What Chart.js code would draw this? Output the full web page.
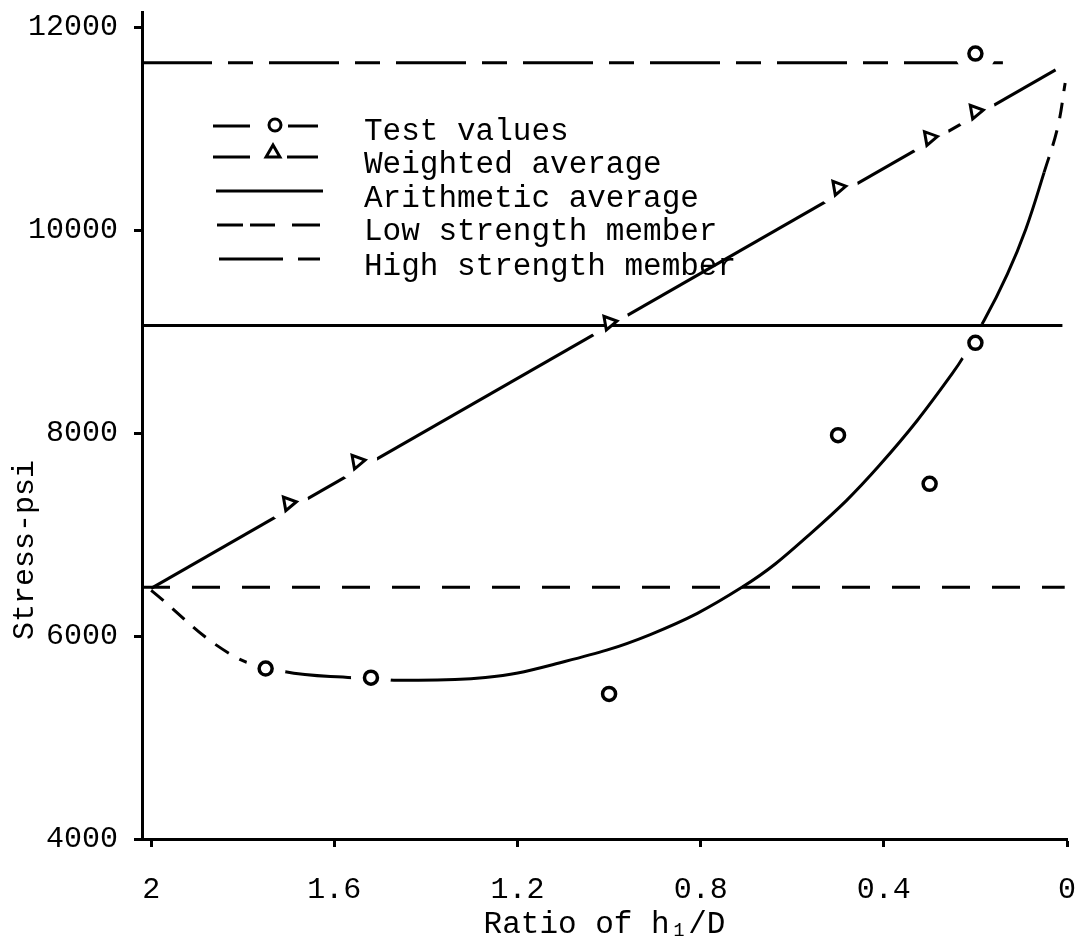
<!DOCTYPE html>
<html>
<head>
<meta charset="utf-8">
<title>Stress vs ratio of h1/D</title>
<script src="https://cdn.jsdelivr.net/npm/chart.js@4.4.1/dist/chart.umd.min.js"></script>
<style>
  html, body { margin: 0; padding: 0; background: #fff; }
  #wrap { width: 1090px; height: 948px; position: relative; }
</style>
</head>
<body>
<div id="wrap"><canvas id="stressChart"></canvas></div>
<script>
// values
const xTicks = [2, 1.6, 1.2, 0.8, 0.4, 0];
const yTicks = [4000, 6000, 8000, 10000, 12000];
const xAxisStart = 2.02;
const yAxisTop = 12150;

const testRatio = [1.75, 1.52, 1.0, 0.5, 0.3, 0.2, 0.2];
const testStress = [5680, 5590, 5430, 7980, 7500, 8890, 11740];

const weightedRatio = [1.7, 1.55, 1.0, 0.5, 0.3, 0.2];
const weightedStress = [7310, 7720, 9090, 10420, 10910, 11170];

const weightedLineRatio = [2.0, 0.025];
const weightedLineStress = [6470, 11580];

// hand drawn curve through the test values
const testCurveRatio = [2.0, 1.83, 1.71, 1.56, 1.45, 1.27, 1.13, 0.91, 0.71, 0.56, 0.41, 0.25, 0.18, 0.13, 0.09, 0.05, 0.02, 0.004];
const testCurveStress = [6450, 5830, 5650, 5590, 5565, 5592, 5710, 6015, 6480, 7010, 7680, 8590, 9120, 9570, 10010, 10570, 11020, 11450];

const arithmeticRatio = [xAxisStart, 0.01];
const arithmeticStress = [9060, 9060];
const lowRatio = [xAxisStart, 0.005];
const lowStress = [6480, 6480];
const highRatio = [xAxisStart, 0.14];
const highStress = [11650, 11650];

const legendLabels = ["Test values", "Weighted average", "Arithmetic average", "Low strength member", "High strength member"];
const xTitle = "Ratio of h\u2081/D";
const yTitle = "Stress-psi";

const FONT = '"Liberation Mono", "Courier New", monospace';

function pairs(xs, ys) {
    return xs.map((x, i) => ({ x: x, y: ys[i] }));
}

function lineSet(xs, ys, dash, order) {
    return {
        data: pairs(xs, ys),
        borderColor: '#000',
        borderWidth: 3,
        borderDash: dash,
        pointRadius: 0,
        fill: false,
        order: order
    };
}

function haloSet(xs, ys, r) {
    // white discs under the markers, they cut the lines like in the drawing
    return {
        data: pairs(xs, ys),
        showLine: false,
        pointRadius: r,
        pointHoverRadius: r,
        pointBorderWidth: 0,
        pointBackgroundColor: '#fff',
        order: 2
    };
}

// legend and y title drawn by hand, like the typed original
const figureLegend = {
    id: 'figureLegend',
    afterDraw(chart) {
        const ctx = chart.ctx;
        const rows = [
            { y: 126, base: 140, segs: [[213, 250], [288, 318]], marker: 'circle', mx: 275, my: 125, r: 6 },
            { y: 157, base: 173, segs: [[213, 250], [287, 318]], marker: 'triangle', mx: 273, my: 153, r: 8 },
            { y: 191, base: 207, segs: [[216, 323]] },
            { y: 225, base: 240, segs: [[217, 243], [250, 275], [292, 320]] },
            { y: 259, base: 275, segs: [[219, 283], [298, 320]] }
        ];
        ctx.save();
        ctx.lineWidth = 3;
        ctx.strokeStyle = '#000';
        ctx.font = '31px ' + FONT;
        ctx.textBaseline = 'alphabetic';
        rows.forEach((row, i) => {
            row.segs.forEach(s => {
                ctx.beginPath();
                ctx.moveTo(s[0], row.y);
                ctx.lineTo(s[1], row.y);
                ctx.stroke();
            });
            if (row.marker) {
                ctx.fillStyle = '#fff';
                Chart.helpers.drawPoint(ctx, { pointStyle: row.marker, radius: row.r, borderWidth: 3, rotation: 0 }, row.mx, row.my);
            }
            ctx.fillStyle = '#000';
            ctx.fillText(legendLabels[i], 364, row.base);
        });
        ctx.font = '30px ' + FONT;
        ctx.translate(25, 550);
        ctx.rotate(-Math.PI / 2);
        ctx.textAlign = 'center';
        ctx.textBaseline = 'middle';
        ctx.fillText(yTitle, 0, 0);
        ctx.restore();
    }
};

const ctx = document.getElementById("stressChart").getContext("2d");

new Chart(ctx, {
    type: 'line',
    data: {
        datasets: [
            lineSet(highRatio, highStress, [70, 16, 25, 16], 3),
            lineSet(lowRatio, lowStress, [28, 22], 3),
            lineSet(arithmeticRatio, arithmeticStress, [], 1.5),
            lineSet(weightedLineRatio, weightedLineStress, [], 3),
            Object.assign(lineSet(testCurveRatio, testCurveStress, [], 3), {
                tension: 0.4,
                segment: {
                    borderDash: c => (c.p0.parsed.x > 1.8 || c.p0.parsed.x < 0.06) ? [16, 12] : undefined
                }
            }),
            haloSet(testRatio, testStress, 20),
            haloSet(weightedRatio, weightedStress, 20),
            {
                label: legendLabels[0],
                data: pairs(testRatio, testStress),
                showLine: false,
                pointStyle: 'circle',
                pointRadius: 6.5,
                pointHoverRadius: 6.5,
                pointBorderWidth: 3.5,
                pointBorderColor: '#000',
                pointBackgroundColor: '#fff',
                order: 1
            },
            {
                label: legendLabels[1],
                data: pairs(weightedRatio, weightedStress),
                showLine: false,
                pointStyle: 'triangle',
                pointRotation: 80,
                pointRadius: 8,
                pointHoverRadius: 8,
                pointBorderWidth: 3,
                pointBorderColor: '#000',
                pointBackgroundColor: '#fff',
                order: 1
            }
        ]
    },
    options: {
        responsive: true,
        maintainAspectRatio: false,
        animation: false,
        layout: {
            autoPadding: false,
            padding: { left: 0, right: 23, top: 12, bottom: 0 }
        },
        plugins: {
            legend: { display: false },
            tooltip: { enabled: false }
        },
        scales: {
            x: {
                type: 'linear',
                reverse: true,
                min: 0,
                max: xAxisStart,
                afterBuildTicks: scale => { scale.ticks = xTicks.map(v => ({ value: v })); },
                afterFit: scale => { scale.height = 109; scale.paddingLeft = 0; scale.paddingRight = 0; },
                border: { color: '#000', width: 3 },
                grid: { drawOnChartArea: false, tickLength: 8, tickColor: '#000', tickWidth: 3 },
                ticks: {
                    color: '#000',
                    padding: 25,
                    font: { family: FONT, size: 30 },
                    callback: v => String(v)
                },
                title: {
                    display: true,
                    text: xTitle,
                    color: '#000',
                    font: { family: FONT, size: 31 },
                    padding: { top: 0, bottom: 5 }
                }
            },
            y: {
                type: 'linear',
                min: 4000,
                max: yAxisTop,
                afterBuildTicks: scale => { scale.ticks = yTicks.map(v => ({ value: v })); },
                afterFit: scale => { scale.width = 142; scale.paddingTop = 0; scale.paddingBottom = 0; },
                border: { color: '#000', width: 3 },
                grid: { drawOnChartArea: false, tickLength: 8, tickColor: '#000', tickWidth: 3 },
                ticks: {
                    color: '#000',
                    padding: 16,
                    font: { family: FONT, size: 30 },
                    callback: v => String(v)
                }
            }
        }
    },
    plugins: [figureLegend]
});
</script>
</body>
</html>
